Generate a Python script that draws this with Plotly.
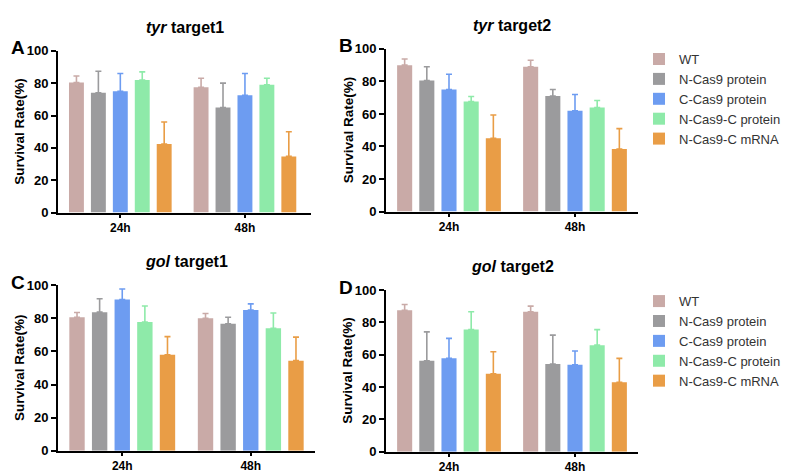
import plotly.graph_objects as go

W, H = 791, 473

times = ["24h", "48h"]
series = ["WT", "N-Cas9 protein", "C-Cas9 protein", "N-Cas9-C protein", "N-Cas9-C mRNA"]
colors = ["#c9aaa7", "#9b9b9d", "#6d9cf1", "#8eeaa9", "#e99d46"]

panel_letters = ["A", "B", "C", "D"]
panel_genes = ["tyr", "tyr", "gol", "gol"]
panel_targets = ["target1", "target2", "target1", "target2"]

# mean survival rate (%) per series: [24h, 48h]
tyr1_mean = [[80.4, 77.5], [74.0, 65.0], [75.0, 72.5], [82.0, 79.0], [42.4, 34.7]]
tyr1_err = [[4.0, 5.5], [13.4, 15.0], [11.0, 13.5], [5.0, 4.0], [13.6, 15.3]]
tyr2_mean = [[90.0, 89.0], [80.5, 71.0], [75.0, 62.0], [67.7, 64.0], [45.0, 38.5]]
tyr2_err = [[3.8, 4.0], [8.5, 4.0], [9.4, 10.0], [3.0, 4.3], [14.4, 12.5]]
gol1_mean = [[80.6, 80.0], [83.7, 76.7], [91.3, 85.0], [77.7, 73.9], [57.9, 54.4]]
gol1_err = [[2.9, 2.9], [8.1, 3.9], [6.4, 3.7], [9.7, 9.3], [11.0, 14.2]]
gol2_mean = [[87.5, 86.5], [56.2, 54.2], [57.8, 53.7], [75.5, 65.9], [48.2, 42.9]]
gol2_err = [[3.5, 3.5], [17.9, 17.9], [12.3, 8.6], [11.0, 9.6], [13.6, 14.8]]

y_ticks = [0, 20, 40, 60, 80, 100]

panels_mean = [tyr1_mean, tyr2_mean, gol1_mean, gol2_mean]
panels_err = [tyr1_err, tyr2_err, gol1_err, gol2_err]

# layout geometry in pixels: (left, right, top, bottom)
boxes = [(50, 303, 37, 204), (378, 630, 35, 203), (50, 307, 279, 450), (378, 630, 284, 451)]
xranges = [[-0.5, 1.53], [-0.5, 1.5], [-0.5, 1.5], [-0.5, 1.5]]


def px(x):
    return x / W


def py(y):
    return 1 - y / H


FONT = "Arial, Liberation Sans, Helvetica, sans-serif"

fig = go.Figure()
for p in range(4):
    xa = "x" if p == 0 else f"x{p+1}"
    ya = "y" if p == 0 else f"y{p+1}"
    for s in range(5):
        fig.add_trace(go.Bar(
            x=times, y=panels_mean[p][s], name=series[s],
            marker=dict(color=colors[s], line=dict(width=0)),
            error_y=dict(type="data", symmetric=False, array=panels_err[p][s],
                         arrayminus=[0, 0], color=colors[s], thickness=1.6, width=3),
            xaxis=xa, yaxis=ya,
            showlegend=(p in (0, 2)),
            legend="legend" if p < 2 else "legend2",
        ))

legend_font = dict(size=13, color="#333333", family=FONT)
layout = dict(
    width=W, height=H,
    margin=dict(l=0, r=0, t=0, b=0),
    paper_bgcolor="white", plot_bgcolor="white",
    barmode="group", bargap=0.12, bargroupgap=0.32,
    font=dict(family=FONT, color="black"),
    legend=dict(x=px(631), y=py(30), xanchor="left", yanchor="top",
                font=legend_font, bgcolor="rgba(0,0,0,0)", tracegroupgap=0),
    legend2=dict(x=px(631), y=py(280), xanchor="left", yanchor="top",
                 font=legend_font, bgcolor="rgba(0,0,0,0)", tracegroupgap=0),
)

annotations = []
for p, (l, r, t, b) in enumerate(boxes):
    xk = "xaxis" if p == 0 else f"xaxis{p+1}"
    yk = "yaxis" if p == 0 else f"yaxis{p+1}"
    xa = "x" if p == 0 else f"x{p+1}"
    ya = "y" if p == 0 else f"y{p+1}"
    layout[xk] = dict(
        domain=[px(l), px(r)], anchor=ya, range=xranges[p], fixedrange=True,
        showline=True, linecolor="black", linewidth=2,
        ticks="outside", ticklen=3, tickwidth=2, tickcolor="black",
        tickfont=dict(size=12, family=FONT, color="black", weight="bold"),
        showgrid=False, zeroline=False,
    )
    layout[yk] = dict(
        domain=[py(b), py(t)], anchor=xa, range=[0, 100],
        tickvals=y_ticks, ticktext=[str(v) for v in y_ticks],
        showline=True, linecolor="black", linewidth=2,
        ticks="outside", ticklen=5, tickwidth=2, tickcolor="black",
        tickfont=dict(size=13, family=FONT, color="black", weight="bold"),
        showgrid=False, zeroline=False,
    )
    # panel title
    annotations.append(dict(
        text=f"<b><i>{panel_genes[p]}</i> {panel_targets[p]}</b>",
        x=px((l + r) / 2), y=py(t - 24), xref="paper", yref="paper",
        xanchor="center", yanchor="middle", showarrow=False,
        font=dict(size=16, family=FONT, color="black"),
    ))
    # panel letter
    annotations.append(dict(
        text=f"<b>{panel_letters[p]}</b>",
        x=px(l - 40), y=py(t - 3), xref="paper", yref="paper",
        xanchor="center", yanchor="middle", showarrow=False,
        font=dict(size=19, family=FONT, color="black"),
    ))
    # y axis title
    annotations.append(dict(
        text="<b>Survival Rate(%)</b>", textangle=-90,
        x=px(l - 38), y=py((t + b) / 2), xref="paper", yref="paper",
        xanchor="center", yanchor="middle", showarrow=False,
        font=dict(size=13.5, family=FONT, color="black"),
    ))

layout["annotations"] = annotations
fig.update_layout(**layout)
fig.write_html("out.html")
